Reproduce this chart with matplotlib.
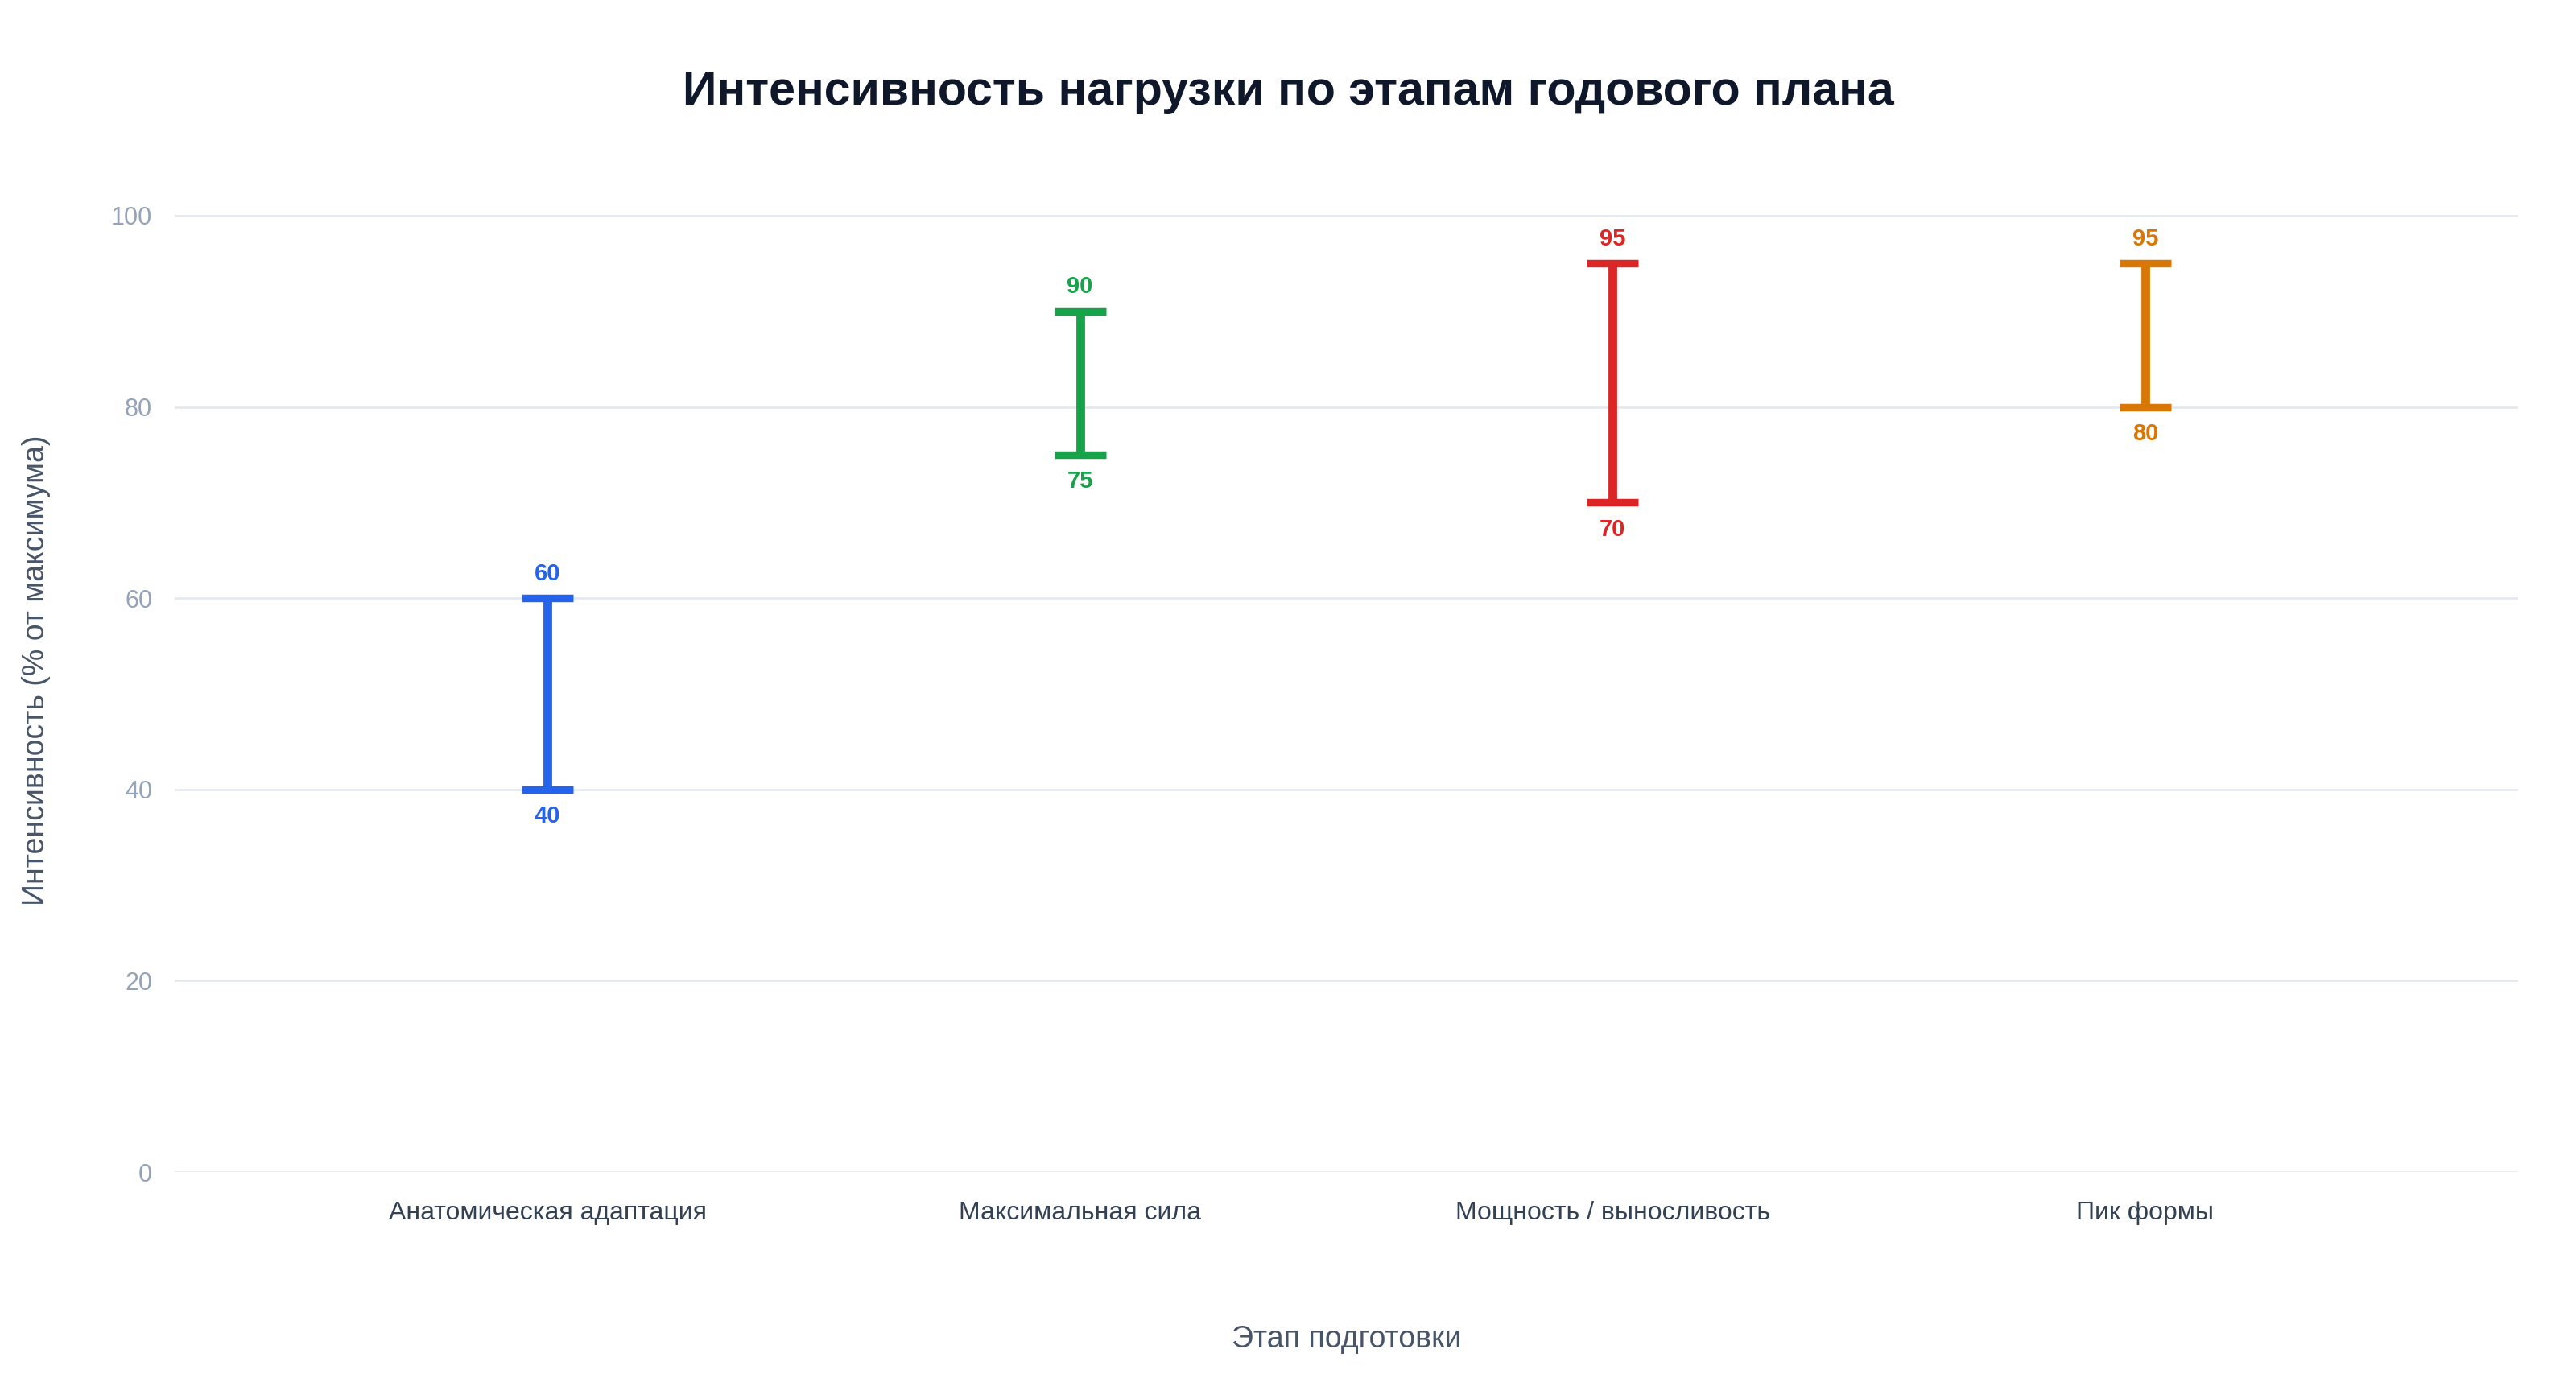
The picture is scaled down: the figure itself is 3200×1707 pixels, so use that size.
import numpy as np
import matplotlib
matplotlib.use("Agg")
import matplotlib.pyplot as plt

plt.rcParams['font.family'] = ['Liberation Sans', 'DejaVu Sans']

# data
stages = ["Анатомическая адаптация", "Максимальная сила", "Мощность / выносливость", "Пик формы"]
low = [40, 75, 70, 80]
high = [60, 90, 95, 95]
colors = ["#2563eb", "#16a34a", "#dc2626", "#d97706"]
y_ticks = [0, 20, 40, 60, 80, 100]

fig = plt.figure(figsize=(16, 8.535), dpi=200)
ax = fig.add_axes([0.0678, 0.147, 0.9097, 0.7308])

x = np.arange(len(stages))
lo = np.array(low)
hi = np.array(high)
mid = (lo + hi) / 2
half = (hi - lo) / 2

for i in range(len(stages)):
    ax.errorbar(x[i], mid[i], yerr=half[i], fmt='none', ecolor=colors[i],
                elinewidth=3.9, capsize=11.5, capthick=3.4, zorder=3)
    ax.annotate(str(high[i]), (x[i], high[i]), xytext=(0, 11), textcoords='offset points',
                ha='center', va='center', fontsize=10.5, fontweight='bold', color=colors[i])
    ax.annotate(str(low[i]), (x[i], low[i]), xytext=(0, -12), textcoords='offset points',
                ha='center', va='center', fontsize=10.5, fontweight='bold', color=colors[i])

ax.set_xlim(-0.7, 3.7)
ax.set_ylim(0, 105)
ax.set_yticks(y_ticks)
ax.set_xticks(x)
ax.set_xticklabels(stages)
ax.grid(axis='y', color='#e2e8f0', linewidth=0.9)
ax.set_axisbelow(True)
for s in ax.spines.values():
    s.set_visible(False)
ax.tick_params(axis='y', length=0, pad=10, labelsize=11, labelcolor='#94a3b8')
ax.tick_params(axis='x', length=0, pad=13, labelsize=11.5, labelcolor='#334155')

ax.set_xlabel("Этап подготовки", fontsize=13.5, color='#475569', va='center')
ax.xaxis.set_label_coords(0.5, -0.1667)
ax.set_ylabel("Интенсивность (% от максимума)", fontsize=13.5, color='#475569', va='center')
ax.yaxis.set_label_coords(-0.059, 0.5)

fig.text(0.5, 0.933, "Интенсивность нагрузки по этапам годового плана",
         ha='center', va='center', fontsize=21.3, fontweight='bold', color='#0f172a')

fig.savefig("out.png", dpi=200, facecolor='white')
